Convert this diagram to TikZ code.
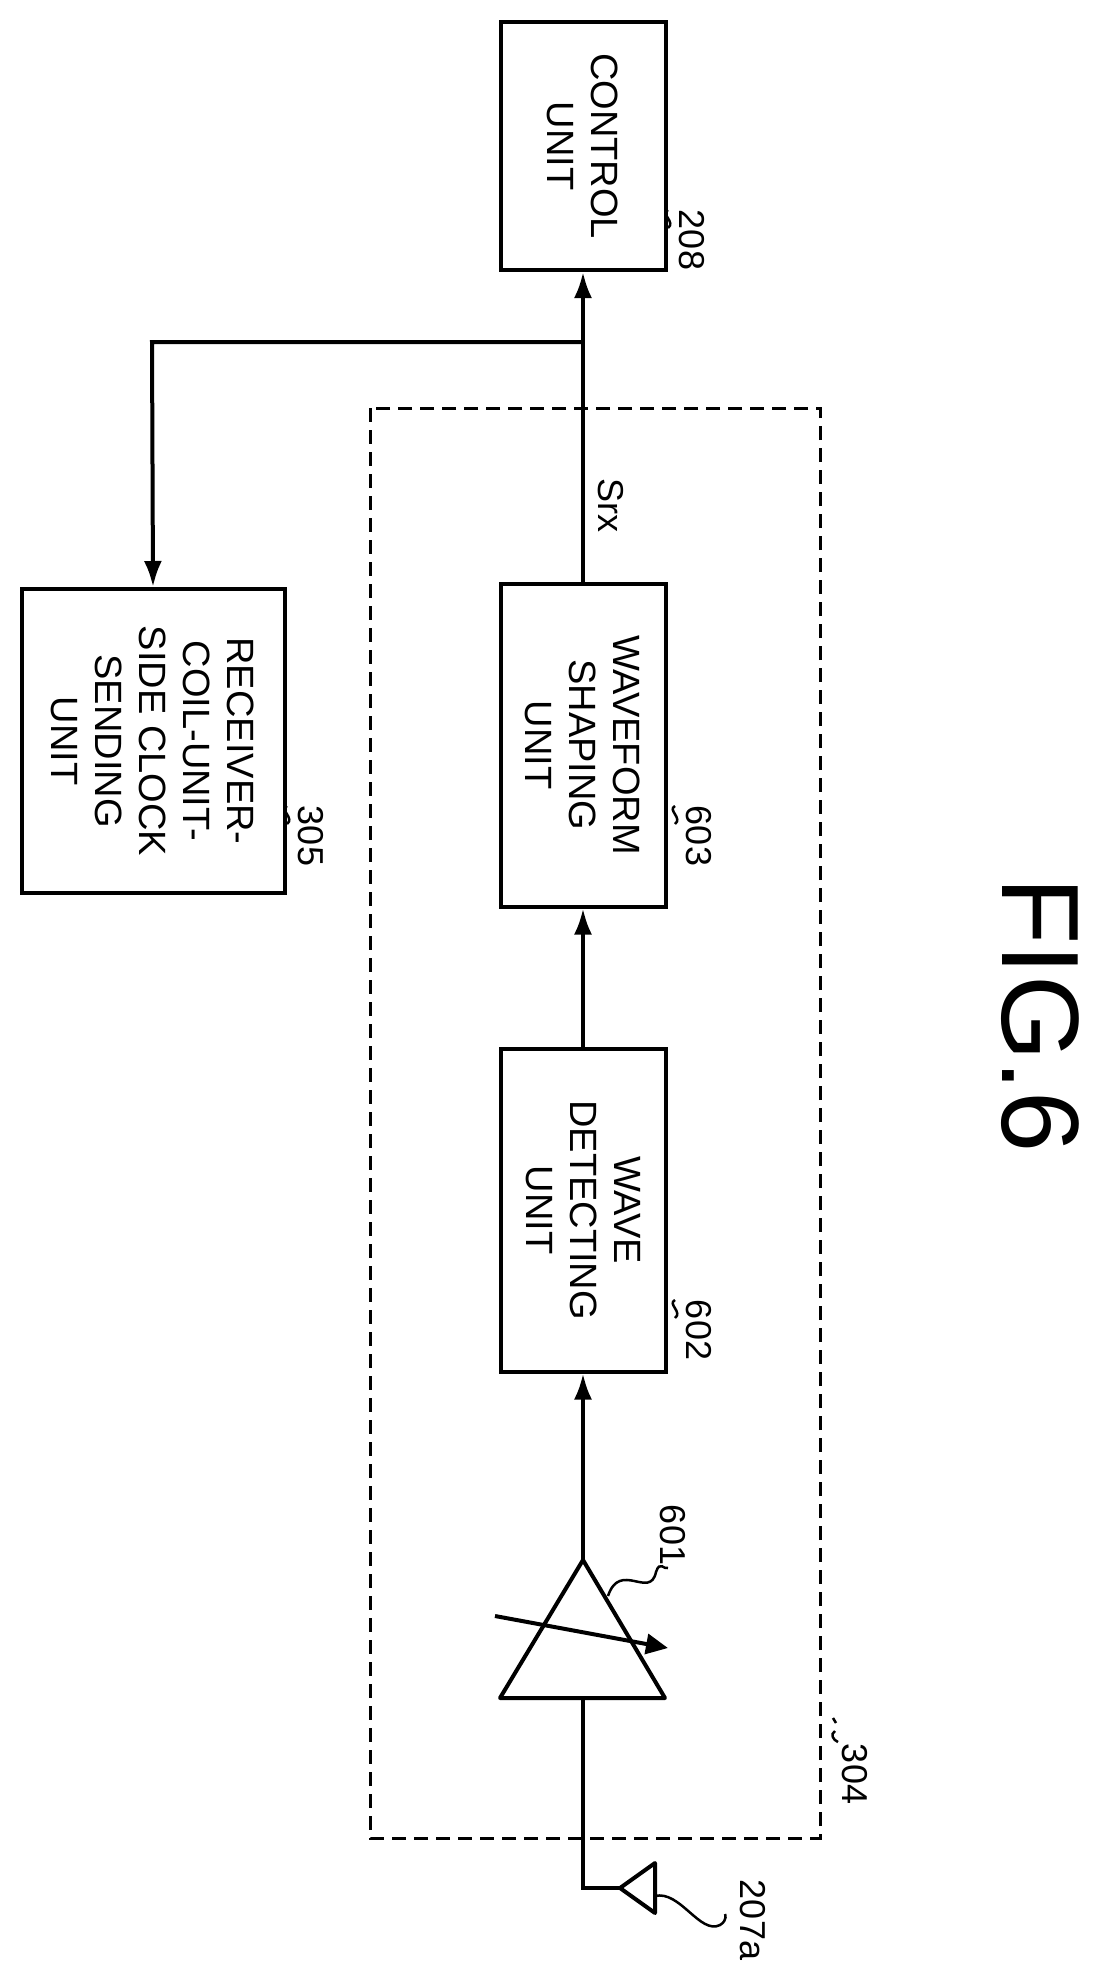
\documentclass[tikz,border=0pt]{standalone}
\usepackage{fontspec}
\setmainfont{Liberation Sans}
\usetikzlibrary{positioning,arrows.meta}
\begin{document}
\begin{tikzpicture}[
    x=1pt, y=-1pt,
    block/.style={draw, line width=4pt, minimum width=248pt, minimum height=165pt,
      align=center, rotate=-90, font=\fontsize{38}{44}\selectfont, inner sep=0pt},
    lbl/.style={rotate=-90, font=\fontsize{36}{40}\selectfont, inner sep=0pt},
    wire/.style={line width=4pt},
    arr/.style={line width=4pt, -{Latex[length=26pt,width=18pt]}},
    lead/.style={line width=2.5pt}
    ]
    \useasboundingbox (0,0) rectangle (1115,1984);
    %Blocks
    \node[block] (ctrl) at (583,146) {CONTROL\\UNIT};
    \node[block, minimum width=323pt] (shape) at (583,745) {WAVEFORM\\SHAPING\\UNIT};
    \node[block, minimum width=323pt] (detect) at (583,1210) {WAVE\\DETECTING\\UNIT};
    \node[block, minimum width=304pt, minimum height=263pt] (recv) at (153,741) {RECEIVER-\\COIL-UNIT-\\SIDE CLOCK\\SENDING\\UNIT};
    %Dashed frame
    \draw[line width=3pt, dash pattern=on 14pt off 8pt] (370,408) rectangle (820,1838);
    %Amplifier
    \coordinate (amptop) at (583,1560);
    \coordinate (ampbot) at (583,1698);
    \draw[wire, line join=round] (amptop) -- (665,1698) -- (500,1698) -- cycle;
    \draw[line width=4pt, -{Triangle[length=22pt,width=20pt]}] (495,1616) -- (668,1648);
    %Antenna
    \coordinate (ant) at (583,1888);
    \coordinate (anttip) at (620,1888);
    \draw[wire] (ampbot) -- (ant) -- (anttip);
    \draw[wire, line join=round] (anttip) -- (655,1863) -- (655,1913) -- cycle;
    %Signal path
    \coordinate (branch) at (583,342);
    \coordinate (corner) at (152,342);
    \draw[arr] (amptop) -- (detect.east);
    \draw[arr] (detect.west) -- (shape.east);
    \draw[arr] (shape.west) -- (ctrl.east);
    \draw[arr] (branch) -- (corner) -- (recv.west);
    \node[lbl, anchor=south] (srx) at (598,505) {Srx};
    %Reference labels
    \node[lbl] (n208) at (692,240) {208};
    \draw[lead] (668,210) .. controls (660,214) and (676,222) .. (668,228);
    \node[lbl] (n603) at (699,836) {603};
    \draw[lead] (675,806) .. controls (667,810) and (683,818) .. (675,824);
    \node[lbl] (n602) at (699,1330) {602};
    \draw[lead] (675,1300) .. controls (667,1304) and (683,1312) .. (675,1318);
    \node[lbl] (n305) at (311,836) {305};
    \draw[lead] (287,806) .. controls (279,810) and (295,818) .. (287,824);
    \node[lbl] (n304) at (855,1774) {304};
    \draw[lead] (833,1718) -- (836,1723);
    \draw[lead] (835,1731) .. controls (830,1734) and (833,1740) .. (838,1742);
    \node[lbl] (n601) at (673,1535) {601};
    \draw[lead] (608,1596) .. controls (620,1560) and (650,1600) .. (656,1572) .. controls (660,1560) and (664,1570) .. (668,1568);
    \node[lbl] (n207) at (753,1920) {207a};
    \draw[lead] (655,1896) .. controls (680,1890) and (700,1935) .. (720,1925) .. controls (728,1920) and (725,1914) .. (725,1914);
    %Title
    \node[rotate=-90, font=\fontsize{110}{110}\selectfont, inner sep=0pt] (fig) at (1040,1015) {FIG.6};
\end{tikzpicture}
\end{document}
